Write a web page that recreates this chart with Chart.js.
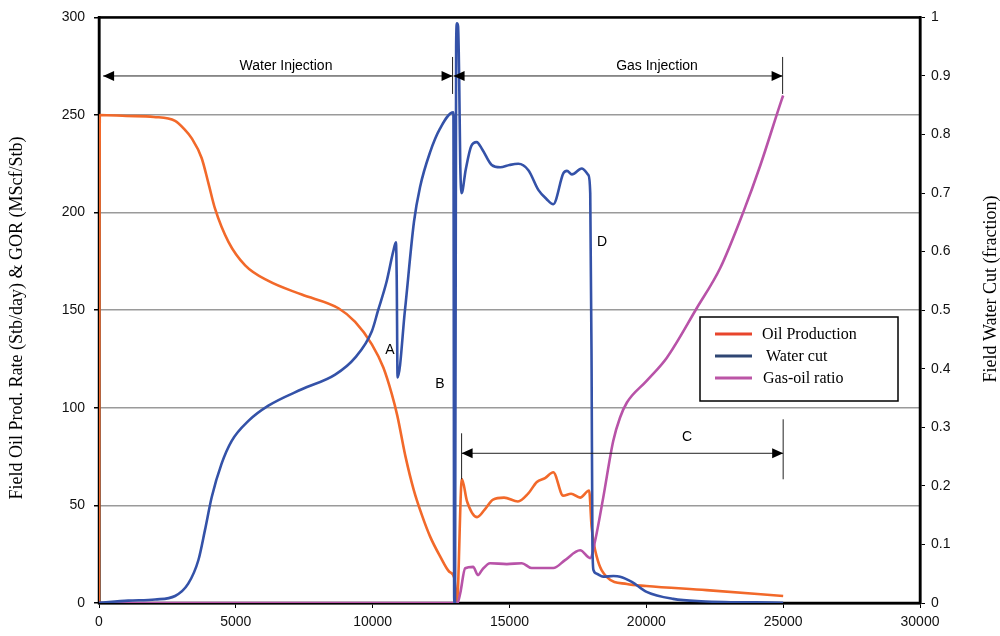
<!DOCTYPE html>
<html>
<head>
<meta charset="utf-8">
<script src="https://cdn.jsdelivr.net/npm/chart.js@4"></script>
<style>
  body { margin: 0; background: #fff; }
  canvas { display: block; }
</style>
</head>
<body>
<canvas id="grafiek" width="1000" height="636"></canvas>
<script>
// Oil production (Stb/day), left axis
var oilX = [0, 30, 1000, 2000, 2780, 3100, 3390, 3750, 4000, 4240, 4730, 5340, 6190, 7410, 8750, 9360, 9970, 10390, 10700, 10900, 11200, 11500, 11800, 12100, 12460, 12800, 12980, 13080, 13260, 13450, 13815, 14100, 14400, 14800, 15310, 15680, 16000, 16300, 16600, 16960, 17250, 17580, 17910, 18000, 18190, 18550, 19290, 20000, 22200, 25000];
var oilY = [0, 250, 249.5, 249, 247, 243, 238, 228, 215, 202, 185, 173, 165, 158, 151, 144, 132.5, 120.6, 107, 96, 75, 58, 45, 34, 24, 16, 13, 0.5, 63.5, 52, 44, 48, 53, 54, 52, 56, 62, 64, 67, 55, 56, 54, 57.6, 39, 23.6, 13.4, 9.7, 8.7, 6.6, 3.6];

// Water cut (fraction), right axis
var wcX = [0, 1070, 2050, 2780, 3260, 3630, 3870, 4120, 4480, 4850, 5460, 6190, 7410, 8630, 9360, 9970, 10200, 10510, 10750, 10850, 10880, 10910, 11180, 11510, 11730, 12100, 12460, 12950, 12980, 13010, 13050, 13080, 13120, 13160, 13200, 13250, 13400, 13600, 13800, 14000, 14350, 14660, 15000, 15320, 15690, 16060, 16350, 16600, 16970, 17100, 17280, 17640, 17880, 17950, 18000, 18030, 18070, 18190, 18420, 18800, 19040, 19470, 20010, 20980, 22000, 25000];
var wcY = [0.0005, 0.004, 0.006, 0.012, 0.033, 0.073, 0.124, 0.181, 0.238, 0.277, 0.311, 0.337, 0.365, 0.39, 0.419, 0.464, 0.5, 0.549, 0.6, 0.616, 0.55, 0.385, 0.5, 0.651, 0.71, 0.77, 0.81, 0.838, 0.0, 0.0, 0.95, 0.99, 0.985, 0.9, 0.75, 0.70, 0.74, 0.78, 0.787, 0.775, 0.748, 0.744, 0.748, 0.75, 0.739, 0.705, 0.69, 0.681, 0.734, 0.738, 0.732, 0.742, 0.731, 0.70, 0.4, 0.1, 0.056, 0.05, 0.045, 0.046, 0.045, 0.036, 0.019, 0.007, 0.003, 0.0005];

// Gas-oil ratio (MScf/Stb), left axis
var gorX = [0, 13100, 13200, 13380, 13670, 13850, 14000, 14290, 14900, 15450, 15810, 16600, 17030, 17580, 17950, 18130, 18420, 18790, 19040, 19290, 20010, 20750, 21840, 22700, 23550, 24160, 24950, 25000];
var gorY = [0, 0, 5, 17.8, 18.5, 14.3, 17, 20.4, 19.9, 20.4, 17.9, 17.9, 22, 27, 23, 32, 53.6, 83, 95, 102.7, 113.8, 125.7, 151, 171.6, 200.5, 224, 258, 260];

var xTicks = [0, 5000, 10000, 15000, 20000, 25000, 30000];
var leftTicks = [0, 50, 100, 150, 200, 250, 300];
var rightTicks = [0, 0.1, 0.2, 0.3, 0.4, 0.5, 0.6, 0.7, 0.8, 0.9, 1];

function punten(xs, ys) {
  var p = [];
  for (var i = 0; i < xs.length; i++) p.push({ x: xs[i], y: ys[i] });
  return p;
}

var sans = "'Liberation Sans', Arial, sans-serif";
var serif = "'Liberation Serif', 'Times New Roman', serif";

function pijl(ctx, x1, x2, y) {
  ctx.beginPath();
  ctx.moveTo(x1, y);
  ctx.lineTo(x2, y);
  ctx.stroke();
  ctx.beginPath();
  ctx.moveTo(x1, y); ctx.lineTo(x1 + 11, y - 5); ctx.lineTo(x1 + 11, y + 5); ctx.closePath();
  ctx.moveTo(x2, y); ctx.lineTo(x2 - 11, y - 5); ctx.lineTo(x2 - 11, y + 5); ctx.closePath();
  ctx.fill();
}

function streep(ctx, x, y1, y2) {
  ctx.beginPath();
  ctx.moveTo(x, y1);
  ctx.lineTo(x, y2);
  ctx.stroke();
}

// black frame under the lines
var kader = {
  id: 'kader',
  beforeDatasetsDraw: function (chart) {
    var a = chart.chartArea, ctx = chart.ctx;
    ctx.save();
    ctx.strokeStyle = '#000';
    ctx.lineWidth = 2.5;
    ctx.strokeRect(a.left, a.top, a.right - a.left, a.bottom - a.top);
    ctx.restore();
  }
};

// arrows, letters, legend, axis titles
var extras = {
  id: 'extras',
  afterDatasetsDraw: function (chart) {
    var ctx = chart.ctx;
    var sx = chart.scales.x, sy = chart.scales.y;
    ctx.save();
    ctx.strokeStyle = '#222';
    ctx.fillStyle = '#000';
    ctx.lineWidth = 1;

    var yPijl = sy.getPixelForValue(270);
    var xa = sx.getPixelForValue(150), xb = sx.getPixelForValue(12920), xc = sx.getPixelForValue(24980);
    pijl(ctx, xa, xb, yPijl);
    pijl(ctx, xb + 1, xc, yPijl);
    streep(ctx, xb, yPijl - 19, yPijl + 18);
    streep(ctx, xc, yPijl - 19, yPijl + 18);

    var yC = sy.getPixelForValue(76.7);
    var xc1 = sx.getPixelForValue(13250), xc2 = sx.getPixelForValue(25000);
    pijl(ctx, xc1, xc2, yC);
    streep(ctx, xc1, yC - 20, yC + 26);
    streep(ctx, xc2, yC - 34, yC + 26);

    ctx.font = '14px ' + sans;
    ctx.textAlign = 'center';
    ctx.textBaseline = 'middle';
    ctx.fillText('Water Injection', 286, 66);
    ctx.fillText('Gas Injection', 657, 66);
    ctx.fillText('A', 390, 350);
    ctx.fillText('B', 440, 384);
    ctx.fillText('C', 687, 437);
    ctx.fillText('D', 602, 242);

    // legend
    ctx.fillStyle = '#fff';
    ctx.fillRect(700, 317, 198, 84);
    ctx.strokeStyle = '#000';
    ctx.lineWidth = 1.5;
    ctx.strokeRect(700, 317, 198, 84);
    var rijen = [
      ['Oil Production', '#e8452c', 762, 334],
      ['Water cut', '#2e4673', 766, 356],
      ['Gas-oil ratio', '#bb55a6', 763, 378]
    ];
    ctx.font = '16px ' + serif;
    ctx.textAlign = 'left';
    rijen.forEach(function (r) {
      ctx.strokeStyle = r[1];
      ctx.lineWidth = 3;
      ctx.beginPath();
      ctx.moveTo(715, r[3]);
      ctx.lineTo(752, r[3]);
      ctx.stroke();
      ctx.fillStyle = '#000';
      ctx.fillText(r[0], r[2], r[3] + 1);
    });

    // axis titles, both read bottom to top
    ctx.font = '18px ' + serif;
    ctx.textAlign = 'center';
    ctx.translate(17, 318);
    ctx.rotate(-Math.PI / 2);
    ctx.fillText('Field Oil Prod. Rate (Stb/day) & GOR (MScf/Stb)', 0, 0);
    ctx.setTransform(1, 0, 0, 1, 0, 0);
    ctx.translate(991, 289);
    ctx.rotate(-Math.PI / 2);
    ctx.fillText('Field Water Cut (fraction)', 0, 0);
    ctx.restore();
  }
};

new Chart(document.getElementById('grafiek'), {
  type: 'line',
  data: {
    datasets: [
      {
        label: 'Oil Production',
        data: punten(oilX, oilY),
        borderColor: '#f2692a',
        yAxisID: 'y',
        order: 2
      },
      {
        label: 'Water cut',
        data: punten(wcX, wcY),
        borderColor: '#3452a8',
        yAxisID: 'y1',
        order: 0
      },
      {
        label: 'Gas-oil ratio',
        data: punten(gorX, gorY),
        borderColor: '#b853a8',
        yAxisID: 'y',
        order: 1
      }
    ]
  },
  options: {
    responsive: false,
    animation: false,
    devicePixelRatio: 1,
    layout: { padding: { top: 15, left: 0, right: 0, bottom: 0 } },
    elements: {
      point: { radius: 0 },
      line: { borderWidth: 2.6, cubicInterpolationMode: 'monotone', fill: false }
    },
    plugins: {
      legend: { display: false },
      tooltip: { enabled: false }
    },
    scales: {
      x: {
        type: 'linear',
        min: 0,
        max: 30000,
        afterBuildTicks: function (s) { s.ticks = xTicks.map(function (v) { return { value: v }; }); },
        afterFit: function (s) { s.height = 33; },
        ticks: {
          color: '#111',
          font: { family: sans, size: 14 },
          padding: 6,
          maxRotation: 0,
          callback: function (v) { return String(v); }
        },
        grid: { drawOnChartArea: false, tickLength: 5, tickColor: '#000' },
        border: { color: '#000', width: 2.5 }
      },
      y: {
        position: 'left',
        min: 0,
        max: 300,
        afterBuildTicks: function (s) { s.ticks = leftTicks.map(function (v) { return { value: v }; }); },
        afterFit: function (s) { s.width = 99; },
        ticks: { color: '#111', font: { family: sans, size: 14 }, padding: 9 },
        grid: { color: '#9a9a9a', lineWidth: 1.5, tickLength: 5, tickColor: '#000' },
        border: { color: '#000', width: 2.5 }
      },
      y1: {
        position: 'right',
        min: 0,
        max: 1,
        afterBuildTicks: function (s) { s.ticks = rightTicks.map(function (v) { return { value: v }; }); },
        afterFit: function (s) { s.width = 80; },
        ticks: {
          color: '#111',
          font: { family: sans, size: 14 },
          padding: 6,
          callback: function (v) { return String(Math.round(v * 10) / 10); }
        },
        grid: { drawOnChartArea: false, tickLength: 5, tickColor: '#000' },
        border: { color: '#000', width: 2.5 }
      }
    }
  },
  plugins: [kader, extras]
});
</script>
</body>
</html>
